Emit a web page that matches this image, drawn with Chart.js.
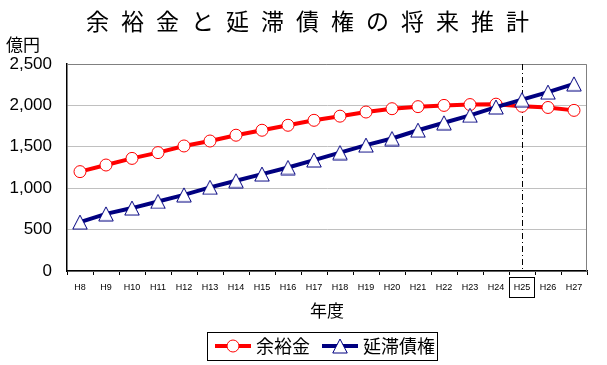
<!DOCTYPE html>
<html>
<head>
<meta charset="utf-8">
<script src="https://cdn.jsdelivr.net/npm/chart.js@4"></script>
<style>
  html, body { margin: 0; padding: 0; background: #fff; }
</style>
</head>
<body>
<canvas id="myChart" width="607" height="365"></canvas>
<script>
const chartTitle = '余裕金と延滞債権の将来推計';
const unitLabel = '億円';
const xAxisTitle = '年度';

const years = [
  'H8', 'H9', 'H10', 'H11', 'H12', 'H13', 'H14', 'H15', 'H16', 'H17',
  'H18', 'H19', 'H20', 'H21', 'H22', 'H23', 'H24', 'H25', 'H26', 'H27',
];
const highlightYear = 'H25';

// 余裕金
const surplus = [
  1200, 1280, 1360, 1430, 1510, 1570, 1640, 1700, 1760, 1820,
  1870, 1920, 1960, 1985, 2000, 2010, 2015, 1990, 1975, 1940,
];

// 延滞債権
const overdue = [
  590, 690, 760, 840, 920, 1010, 1090, 1170, 1250, 1340,
  1430, 1520, 1600, 1700, 1790, 1880, 1980, 2070, 2160, 2260,
];

const yTicks = [0, 500, 1000, 1500, 2000, 2500];

const RED = '#ff0000';
const NAVY = '#000080';
const JP = '"Noto Sans CJK JP", sans-serif';

function drawTriangle(ctx, cx, cy, w, h, color) {
  ctx.beginPath();
  ctx.moveTo(cx, cy - h / 2);
  ctx.lineTo(cx + w / 2, cy + h / 2);
  ctx.lineTo(cx - w / 2, cy + h / 2);
  ctx.closePath();
  ctx.fillStyle = '#fff';
  ctx.fill();
  ctx.strokeStyle = color;
  ctx.lineWidth = 1;
  ctx.stroke();
}

function triangleMarker() {
  const c = document.createElement('canvas');
  c.width = 16;
  c.height = 16;
  drawTriangle(c.getContext('2d'), 8, 8, 14.5, 14, NAVY);
  return c;
}

function legendIcon(color, marker) {
  const c = document.createElement('canvas');
  c.width = 38;
  c.height = 16;
  const ctx = c.getContext('2d');
  ctx.strokeStyle = color;
  ctx.lineWidth = 4;
  ctx.beginPath();
  ctx.moveTo(1, 8);
  ctx.lineTo(37, 8);
  ctx.stroke();
  if (marker === 'circle') {
    ctx.beginPath();
    ctx.arc(19, 8, 6, 0, Math.PI * 2);
    ctx.fillStyle = '#fff';
    ctx.fill();
    ctx.lineWidth = 1;
    ctx.stroke();
  } else {
    drawTriangle(ctx, 19, 8, 14.5, 14, color);
  }
  return c;
}

const legendIcons = [legendIcon(RED, 'circle'), legendIcon(NAVY, 'triangle')];

const decor = {
  id: 'decor',
  beforeDatasetsDraw(chart) {
    const { ctx, chartArea: a, scales: { x } } = chart;
    ctx.save();
    ctx.strokeStyle = '#808080';
    ctx.lineWidth = 1;
    ctx.beginPath();
    ctx.moveTo(a.left, a.top + 0.5);
    ctx.lineTo(a.right - 0.5, a.top + 0.5);
    ctx.lineTo(a.right - 0.5, a.bottom);
    ctx.stroke();

    const px = Math.round(x.getPixelForValue(years.indexOf(highlightYear))) + 0.5;
    ctx.strokeStyle = '#000';
    ctx.setLineDash([6, 3, 1, 3]);
    ctx.beginPath();
    ctx.moveTo(px, a.top);
    ctx.lineTo(px, a.bottom);
    ctx.stroke();
    ctx.restore();
  },
  afterDraw(chart) {
    const { ctx, chartArea: a, scales: { x } } = chart;
    ctx.save();

    // title, one glyph at a time for the wide spacing
    ctx.font = '23px ' + JP;
    ctx.fillStyle = '#000';
    ctx.textBaseline = 'middle';
    ctx.textAlign = 'center';
    const chars = [...chartTitle];
    const pitch = 35;
    const first = 307.5 - pitch * (chars.length - 1) / 2;
    chars.forEach((ch, i) => ctx.fillText(ch, first + i * pitch, 21));

    // unit label
    ctx.textAlign = 'left';
    ctx.font = '17px ' + JP;
    ctx.fillText(unitLabel, 6, 45);

    // box round the highlighted year
    const px = Math.round(x.getPixelForValue(years.indexOf(highlightYear)));
    ctx.strokeStyle = '#000';
    ctx.lineWidth = 1;
    ctx.strokeRect(px - 12.5, a.bottom + 6.5, 25, 20);

    // legend frame
    const hb = chart.legend.legendHitBoxes;
    if (hb && hb.length) {
      const f = hb[0];
      const l = hb[hb.length - 1];
      const left = Math.round(f.left - 12) + 0.5;
      const right = Math.round(l.left + l.width + 2) + 0.5;
      const top = Math.round(f.top - 5) + 0.5;
      const bottom = Math.round(f.top + f.height + 5) + 0.5;
      ctx.strokeRect(left, top, right - left, bottom - top);
    }
    ctx.restore();
  },
};

const triangle = triangleMarker();

const chartData = {
  labels: years,
  datasets: [
    {
      label: '余裕金',
      data: surplus,
      borderColor: RED,
      borderWidth: 4,
      pointStyle: 'circle',
      pointRadius: 6,
      pointBorderWidth: 1,
      pointBackgroundColor: '#fff',
      pointBorderColor: RED,
      tension: 0,
      order: 1,
    },
    {
      label: '延滞債権',
      data: overdue,
      borderColor: NAVY,
      borderWidth: 4,
      pointStyle: triangle,
      pointRadius: 8,
      pointBackgroundColor: '#fff',
      pointBorderColor: NAVY,
      tension: 0,
      order: 0,
    },
  ],
};

const config = {
  type: 'line',
  data: chartData,
  options: {
    responsive: false,
    animation: false,
    devicePixelRatio: 1,
    layout: { padding: { top: 64, left: 0, right: 20, bottom: 0 } },
    scales: {
      x: {
        offset: true,
        grid: {
          offset: true,
          drawOnChartArea: false,
          drawTicks: true,
          tickLength: 4,
          color: '#000',
        },
        border: { color: '#000', width: 1.5 },
        ticks: {
          color: '#000',
          font: { family: 'Liberation Sans', size: 9 },
          padding: 7,
          maxRotation: 0,
          autoSkip: false,
        },
        title: {
          display: true,
          text: xAxisTitle,
          color: '#000',
          font: { family: JP, size: 17 },
          padding: { top: 0, bottom: 0 },
        },
        afterFit: (s) => { s.height = 50; },
      },
      y: {
        min: 0,
        max: 2500,
        afterBuildTicks: (s) => { s.ticks = yTicks.map((v) => ({ value: v })); },
        grid: { color: '#c0c0c0', drawTicks: false },
        border: { color: '#000', width: 1.5 },
        ticks: {
          color: '#000',
          font: { family: 'Liberation Sans', size: 17 },
          padding: 15,
          callback: (v) => v.toLocaleString('en-US'),
        },
        afterFit: (s) => { s.width = 67; },
      },
    },
    plugins: {
      title: { display: false },
      tooltip: { enabled: false },
      legend: {
        position: 'bottom',
        fullSize: false,
        labels: {
          usePointStyle: true,
          pointStyleWidth: 28,
          padding: 16,
          color: '#000',
          font: { family: JP, size: 18 },
          sort: (a, b) => a.datasetIndex - b.datasetIndex,
          generateLabels: (chart) => {
            const items = Chart.defaults.plugins.legend.labels.generateLabels(chart);
            items.forEach((it) => { it.pointStyle = legendIcons[it.datasetIndex]; });
            return items;
          },
        },
      },
    },
  },
  plugins: [decor],
};

const myChart = new Chart(document.getElementById('myChart'), config);
</script>
</body>
</html>
